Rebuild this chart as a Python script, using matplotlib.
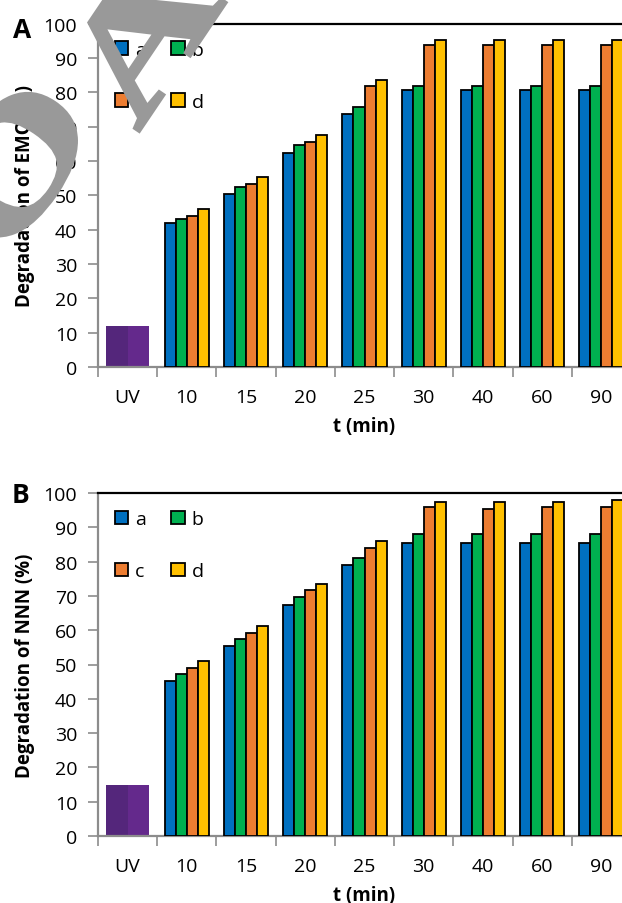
import matplotlib
matplotlib.use("Agg")
import numpy as np
import matplotlib.pyplot as plt
from matplotlib.textpath import TextPath
from matplotlib.patches import PathPatch
from matplotlib.font_manager import FontProperties
from matplotlib.transforms import Affine2D

plt.rcParams['font.family'] = ['Open Sans', 'DejaVu Sans']

# categories
cats = ['UV', '10', '15', '20', '25', '30', '40', '60', '90']
series = ['a', 'b', 'c', 'd']
colors = ['#0070C0', '#00B050', '#ED7D31', '#FFC000']
uv_colors = ['#54267B', '#64298C']

# panel A - EMO
emo_uv = 12
emo_a = [42.0, 50.3, 62.3, 73.6, 80.7, 80.7, 80.7, 80.7]
emo_b = [43.1, 52.3, 64.6, 75.7, 81.9, 81.9, 81.9, 81.9]
emo_c = [44.1, 53.2, 65.5, 81.7, 93.6, 93.6, 93.6, 93.6]
emo_d = [46.0, 55.2, 67.4, 83.6, 95.1, 95.1, 95.1, 95.1]

# panel B - NNN
nnn_uv = 15
nnn_a = [45.1, 55.4, 67.3, 79.0, 85.3, 85.3, 85.3, 85.3]
nnn_b = [47.1, 57.3, 69.6, 81.0, 88.0, 88.0, 88.0, 88.0]
nnn_c = [49.1, 59.3, 71.6, 84.0, 96.0, 95.4, 96.0, 96.0]
nnn_d = [51.1, 61.3, 73.6, 86.0, 97.3, 97.3, 97.3, 98.1]

W, H = 622, 904
fig = plt.figure(figsize=(W / 100, H / 100), dpi=100)

def panel(rect, uv, vals, ylabel, letter, letter_xy):
	ax = fig.add_axes(rect)
	x = np.arange(len(cats))
	bw = 0.186
	# UV bar, two purple halves
	ax.bar(x[0] - 0.183, uv, width=0.366, color=uv_colors[0], linewidth=0, zorder=2)
	ax.bar(x[0] + 0.183, uv, width=0.366, color=uv_colors[1], linewidth=0, zorder=2)
	bars = []
	for i, (v, c, s) in enumerate(zip(vals, colors, series)):
		b = ax.bar(x[1:] + (i - 1.5) * bw, v, width=bw, color=c, edgecolor='black',
			linewidth=1.3, label=s, zorder=3)
		bars.append(b)
	ax.set_xlim(-0.5, len(cats) - 0.5)
	ax.set_ylim(0, 100)
	ax.set_yticks(range(0, 101, 10))
	ax.set_xticks(x)
	ax.set_xticklabels(cats)
	ax.set_xticks(np.arange(-0.5, len(cats), 1.0), minor=True)
	ax.tick_params(axis='x', which='major', length=0, pad=15, labelsize=14)
	ax.tick_params(axis='x', which='minor', length=7, width=1.2, color='#8c8c8c', direction='out')
	ax.tick_params(axis='y', length=7, width=1.2, color='#8c8c8c', direction='out', pad=8, labelsize=14)
	for side in ['left', 'bottom']:
		ax.spines[side].set_color('#8c8c8c')
		ax.spines[side].set_linewidth(1.6)
	ax.spines['top'].set_color('black')
	ax.spines['top'].set_linewidth(1.6)
	ax.spines['right'].set_visible(False)
	ax.set_xlabel('t (min)', fontsize=13.5, fontweight='bold', labelpad=7)
	ax.set_ylabel(ylabel, fontsize=13.5, fontweight='bold', labelpad=6)
	# a b on first row, c d on second
	order = [0, 2, 1, 3]
	ax.legend([bars[k] for k in order], [series[k] for k in order],
		loc='upper left', bbox_to_anchor=(0.031, 0.95), ncol=2, frameon=False,
		fontsize=14, handlelength=0.7, handleheight=0.7, handletextpad=0.35,
		columnspacing=1.3, labelspacing=1.75, borderpad=0, borderaxespad=0)
	fig.text(letter_xy[0] / W, 1 - letter_xy[1] / H, letter, fontsize=19,
		fontweight='bold', ha='center', va='center')
	return ax

def rect_px(left, top, right, bottom):
	return [left / W, 1 - bottom / H, (right - left) / W, (bottom - top) / H]

panel(rect_px(98, 24.5, 631, 368), emo_uv, [emo_a, emo_b, emo_c, emo_d],
	'Degradation of EMO (%)', 'A', (22, 31))
panel(rect_px(98, 494, 631, 837), nnn_uv, [nnn_a, nnn_b, nnn_c, nnn_d],
	'Degradation of NNN (%)', 'B', (21, 496))

# grey watermark letters in the top left corner (wide, rotated)
fp = FontProperties(family='Liberation Serif', weight='bold')
for ch, (px, py) in [('O', (7, 265)), ('A', (138, 134))]:
	tp = TextPath((0, 0), ch, size=1, prop=fp)
	tr = Affine2D().scale(220, 155).rotate_deg(56).translate(px, H - py)
	fig.add_artist(PathPatch(tp, transform=tr, facecolor='#999999',
		edgecolor='#999999', linewidth=2.5, zorder=20))

fig.savefig('out.png', dpi=100)
